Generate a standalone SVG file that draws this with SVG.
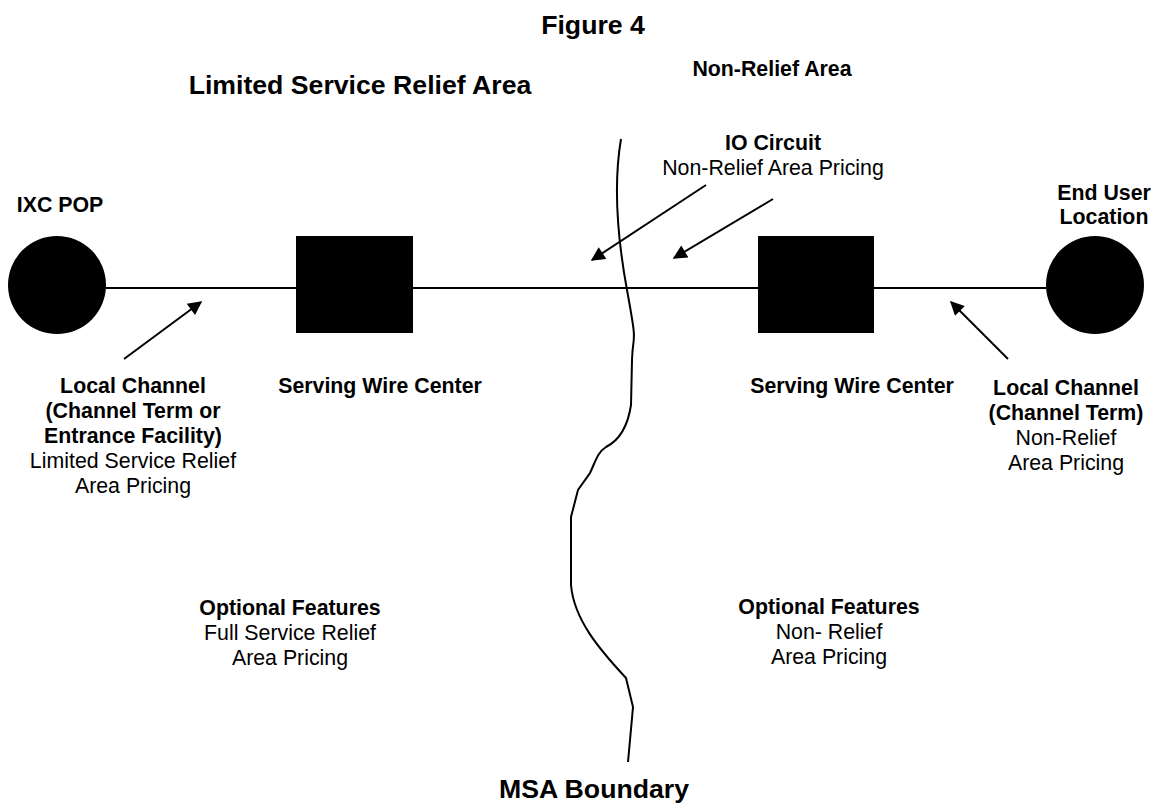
<svg xmlns="http://www.w3.org/2000/svg" width="1156" height="806" viewBox="0 0 1156 806">
<defs>
<style>
text{font-family:"Liberation Sans",Arial,sans-serif;fill:#000;text-anchor:middle}
.b{font-weight:bold;font-size:21.33px}
.r{font-size:21.33px}
.t{font-weight:bold;font-size:26.67px}
.ln{stroke:#000;stroke-width:2;fill:none}
.ar{stroke:#000;stroke-width:2;fill:none;marker-end:url(#ah)}
</style>
<marker id="ah" viewBox="0 0 10 10" refX="9" refY="5" markerWidth="9" markerHeight="7" markerUnits="strokeWidth" orient="auto">
<path d="M0,0 L10,5 L0,10 z" fill="#000"/>
</marker>
</defs>
<rect width="1156" height="806" fill="#fff"/>
<text class="t" x="593" y="34">Figure 4</text>
<text class="t" x="360" y="94">Limited Service Relief Area</text>
<text class="b" x="772" y="76">Non-Relief Area</text>
<g id="connectors">
<line class="ln" x1="106" y1="288" x2="1046" y2="288"/>
<path class="ln" d="M621,139 C614,180 616,230 627,290 S633,330 632,360 L631,405 C628,425 620,440 606,447 C598,452 596,460 590,473 L578,490 L571,517 L571,585 C574,620 600,650 626,678 L633,707 L628,762"/>
<line class="ar" x1="124" y1="359" x2="201" y2="302"/>
<line class="ar" x1="1008" y1="359" x2="951" y2="302"/>
<line class="ar" x1="706" y1="185" x2="592" y2="260"/>
<line class="ar" x1="773" y1="199" x2="674" y2="258"/>
</g>
<g id="ixc-pop">
<circle cx="57" cy="285" r="49" fill="#000"/>
<text class="b" x="60" y="212">IXC POP</text>
</g>
<g id="swc-left">
<rect x="296" y="236" width="117" height="97" fill="#000"/>
<text class="b" x="380" y="393">Serving Wire Center</text>
</g>
<g id="swc-right">
<rect x="758" y="236" width="116" height="97" fill="#000"/>
<text class="b" x="852" y="393">Serving Wire Center</text>
</g>
<g id="end-user">
<circle cx="1095" cy="285" r="49" fill="#000"/>
<text class="b" x="1104" y="200">End User</text>
<text class="b" x="1104" y="224">Location</text>
</g>
<g id="io-circuit">
<text class="b" x="773" y="150">IO Circuit</text>
<text class="r" x="773" y="175">Non-Relief Area Pricing</text>
</g>
<g id="local-channel-left">
<text class="b" x="133" y="393">Local Channel</text>
<text class="b" x="133" y="418">(Channel Term or</text>
<text class="b" x="133" y="443">Entrance Facility)</text>
<text class="r" x="133" y="468">Limited Service Relief</text>
<text class="r" x="133" y="493">Area Pricing</text>
</g>
<g id="local-channel-right">
<text class="b" x="1066" y="395">Local Channel</text>
<text class="b" x="1066" y="420">(Channel Term)</text>
<text class="r" x="1066" y="445">Non-Relief</text>
<text class="r" x="1066" y="470">Area Pricing</text>
</g>
<g id="optional-left">
<text class="b" x="290" y="615">Optional Features</text>
<text class="r" x="290" y="640">Full Service Relief</text>
<text class="r" x="290" y="665">Area Pricing</text>
</g>
<g id="optional-right">
<text class="b" x="829" y="614">Optional Features</text>
<text class="r" x="829" y="639">Non- Relief</text>
<text class="r" x="829" y="664">Area Pricing</text>
</g>
<g id="msa">
<text class="t" x="594" y="798">MSA Boundary</text>
</g>
</svg>
